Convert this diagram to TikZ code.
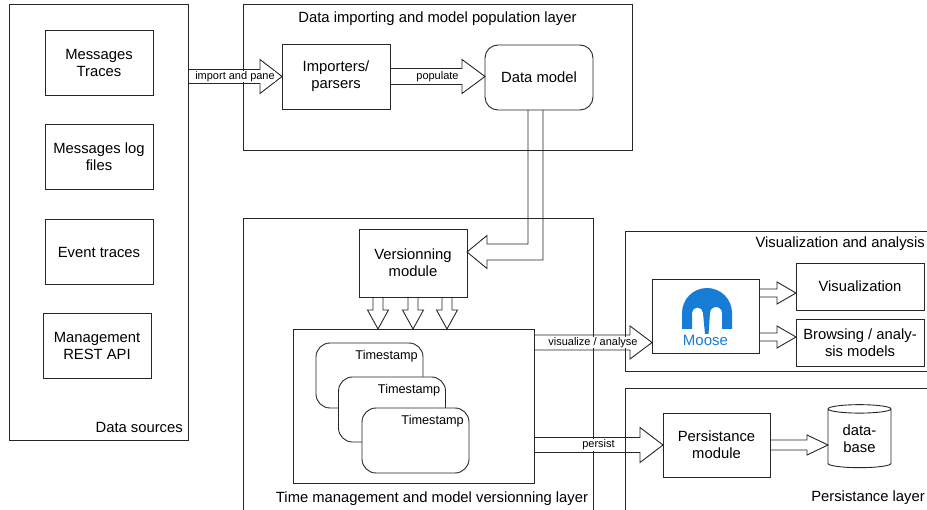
\documentclass[tikz,border=0pt]{standalone}
\usepackage{fontspec}
\setmainfont{Liberation Sans}
\usetikzlibrary{calc,shapes.geometric}
\definecolor{mooseblue}{RGB}{22,124,214}
\tikzset{
  {layer box/.style} ={draw=black!85, line width=.9pt, inner sep=0, outer sep=0},
  {layer title/.style} ={font=\fontsize{14.8}{17}\selectfont, inner sep=0},
  {box/.style} ={layer box, fill=white, minimum width=108, minimum height=65,
                 align=center, font=\fontsize{14.8}{17}\selectfont},
  {stamp/.style} ={box, rounded corners=14, minimum width=107},
  {stamp label/.style} ={inner sep=0, font=\fontsize{12.7}{15}\selectfont},
  {fat arrow/.style} ={draw=black!85, line width=.9pt, line join=miter},
  {arrow label/.style} ={fill=white, inner sep=.5pt, font=\fontsize{11}{13}\selectfont},
  {data base/.style} ={box, cylinder, shape border rotate=90, aspect=.25,
                 minimum width=63, minimum height=63},
}
% block arrows: from, to, shaft half width, head half width, head length
\newcommand{\fatright}[5]{\draw[fat arrow] let \p1=(#1), \p2=(#2) in
  (\x1,\y1+#3pt) -- (\x2-#5pt,\y1+#3pt) -- (\x2-#5pt,\y1+#4pt) -- (\x2,\y1)
  -- (\x2-#5pt,\y1-#4pt) -- (\x2-#5pt,\y1-#3pt) -- (\x1,\y1-#3pt);}
\newcommand{\fatdown}[5]{\draw[fat arrow] let \p1=(#1), \p2=(#2) in
  (\x1-#3pt,\y1) -- (\x1-#3pt,\y2+#5pt) -- (\x1-#4pt,\y2+#5pt) -- (\x1,\y2)
  -- (\x1+#4pt,\y2+#5pt) -- (\x1+#3pt,\y2+#5pt) -- (\x1+#3pt,\y1);}
\begin{document}
\begin{tikzpicture}[x=1pt,y=-1pt]
    \useasboundingbox (0,0) rectangle (927,510);
    \clip (0,0) rectangle (927,510);
    % layers
    \node[layer box, minimum width=179, minimum height=436] (src) at (98.5,222) {};
    \node[layer box, minimum width=389, minimum height=146] (implay) at (437.5,77) {};
    \node[layer box, minimum width=350, minimum height=312] (timelay) at (418,374) {};
    \node[layer box, minimum width=335, minimum height=140] (vislay) at (792.5,301) {};
    \node[layer box, minimum width=335, minimum height=142] (perslay) at (792.5,459) {};
    \node[layer title, anchor=base east] (srct) at (183,433) {Data sources};
    \node[layer title, anchor=base] (implayt) at (437.5,23) {Data importing and model population layer};
    \node[layer title, anchor=base] (timelayt) at (432,503) {Time management and model versionning layer};
    \node[layer title, anchor=base east] (vislayt) at (925,248) {Visualization and analysis};
    \node[layer title, anchor=base east] (perslayt) at (925,502) {Persistance layer};
    % data sources
    \node[box] (msg) at (99,62.5) {Messages\\Traces};
    \node[box] (log) at (99,157) {Messages log\\files};
    \node[box] (evt) at (99,252) {Event traces};
    \node[box] (rest) at (97,345.5) {Management\\REST API};
    % importing
    \node[box] (imp) at (336,76.5) {Importers/\\parsers};
    \node[box, rounded corners=13] (dm) at (539,77.5) {Data model};
    % versionning
    \node[box, minimum height=68] (ver) at (413,263) {Versionning\\module};
    \node[box, minimum width=241, minimum height=154] (tsbox) at (413.5,406) {};
    \foreach \x/\y [count=\i] in {369.5/375.5, 392/409.5, 415.5/440.5} {
      \node[stamp] (ts\i) at (\x,\y) {};
      \node[stamp label, anchor=base east] (tl\i) at ([shift={(-5,17)}]ts\i.north east) {Timestamp};
    }
    % visualization
    \node[box, minimum width=107, minimum height=74] (moose) at (705.5,316) {};
    \node[box, minimum width=128, minimum height=47] (vis) at (860,286.5) {Visualization};
    \node[box, minimum width=128, minimum height=47] (brw) at (860,342.5) {Browsing / analy-\\sis models};
    % persistance
    \node[box, minimum width=107, minimum height=64] (persm) at (716.5,445) {Persistance\\module};
    \node[data base] (db) at (859.5,438.5) {data-\\base};
    % moose logo
    \fill[mooseblue] (682,329) -- (682,313) arc (180:360:25) -- (732,329) -- (722,329)
      -- (722,313) arc (0:-180:6) -- (708.5,334) -- (705,334) -- (703,313)
      arc (0:-180:5.5) -- (692,329) -- cycle;
    \node[font=\fontsize{15}{17}\selectfont, text=mooseblue, anchor=base, inner sep=0] (mooset) at (705.5,346) {Moose};
    % arrows
    \coordinate (dmout) at ([xshift=-3.5]dm.south);
    \coordinate (vertip) at ([yshift=11]ver.east);
    \coordinate (vatip) at ([yshift=-26.5]moose.west);
    \coordinate (vistip) at ([yshift=-6.5]vis.west);
    \coordinate (brwtip) at ([yshift=5.5]brw.west);
    \fatright{src.east |- imp.west}{imp.west}{7}{17}{22}
    \fatright{imp.east}{dm.west |- imp.east}{8}{17}{23}
    \draw[fat arrow] let \p1=(dmout), \p2=(vertip) in
      (\x1-7.5pt,\y1) -- (\x1-7.5pt,\y2+8pt) -- (\x2+20pt,\y2+8pt) -- (\x2+20pt,\y2+16.5pt)
      -- (\x2,\y2) -- (\x2+20pt,\y2-16.5pt) -- (\x2+20pt,\y2-8pt) -- (\x1+7.5pt,\y2-8pt) -- (\x1+7.5pt,\y1);
    \foreach \dx [count=\i] in {-35,0,34} {
      \coordinate (vs\i) at ([xshift=\dx]ver.south);
      \fatdown{vs\i}{tsbox.north -| vs\i}{5}{10.5}{19}
    }
    \fatright{tsbox.east |- vatip}{vatip}{7.5}{16.5}{22}
    \fatright{tsbox.east |- persm.west}{persm.west}{7.5}{17.5}{23}
    \fatright{moose.east |- vistip}{vistip}{4}{11}{19}
    \fatright{moose.east |- brwtip}{brwtip}{4}{11}{19}
    \fatright{persm.east}{db.west |- persm.east}{5}{10}{21}
    \node[arrow label] (impl) at ($(src.east |- imp.west)!.5!(imp.west)$) {import and pane};
    \node[arrow label] (popl) at ($(imp.east)!.5!(dm.west |- imp.east)$) {populate};
    \node[arrow label] (val) at ($(tsbox.east |- vatip)!.5!(vatip)$) {visualize / analyse};
    \node[arrow label] (perl) at ($(tsbox.east |- persm.west)!.5!(persm.west)$) {persist};
\end{tikzpicture}
\end{document}
